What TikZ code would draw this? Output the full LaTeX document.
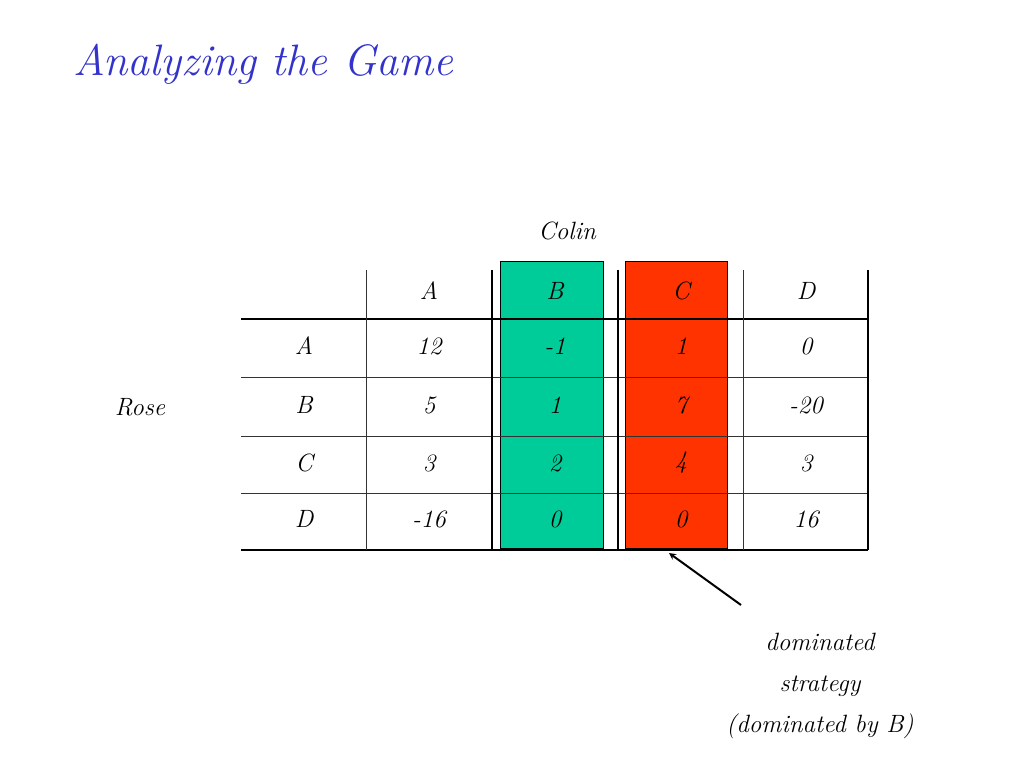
\documentclass[tikz,border=0pt]{standalone}
\usepackage{amssymb}
\usetikzlibrary{positioning}
\definecolor{titleblue}{RGB}{51,51,204}
\definecolor{domgreen}{RGB}{0,204,153}
\definecolor{domred}{RGB}{255,51,0}
\tikzset{
  cell/.style={font=\fontsize{25}{28}\selectfont\itshape, anchor=center},
  grid/.style={draw=black!80, line width=0.8pt},
  heavy/.style={draw=black, line width=1.4pt}
}
\begin{document}
\begin{tikzpicture}[x=1pt, y=-1pt]
  %game table, Colin vs Rose
    \useasboundingbox (0,0) rectangle (1024,768);

    \node[anchor=west, text=titleblue, font=\fontsize{44}{50}\selectfont\itshape] (title) at (70,64) {Analyzing the Game};

    \fill[domgreen] (500,261) rectangle (603,548);
    \draw[line width=0.8pt] (500,261) rectangle (603,548);
    \fill[domred] (625,261) rectangle (727,548);
    \draw[line width=0.8pt] (625,261) rectangle (727,548);

    \foreach \y in {377,436,493} \draw[grid] (241,\y) -- (868,\y);
    \draw[heavy] (241,319) -- (868,319);
    \draw[heavy] (241,550) -- (868,550);
    \draw[grid] (366,270) -- (366,550);
    \draw[grid] (743,270) -- (743,550);
    \foreach \x in {492,618,868} \draw[heavy] (\x,270) -- (\x,550);

    \node[cell] (colin) at (567,231) {Colin};
    \node[cell] (rose) at (140,407) {Rose};

    % column heads and row heads
    \foreach \n/\x in {A/429,B/555,C/681,D/806}
      \node[cell] (col\n) at (\x,291) {\n};
    \foreach \n/\y in {A/346,B/405,C/463,D/519}
      \node[cell] (row\n) at (304,\y) {\n};

    % payoffs
    \foreach \y/\a/\b/\c/\d in {346/12/-1/1/0, 405/5/1/7/-20, 463/3/2/4/3, 519/-16/0/0/16}{
      \node[cell] at (429,\y) {\a};
      \node[cell] at (555,\y) {\b};
      \node[cell] at (681,\y) {\c};
      \node[cell] at (806,\y) {\d};
    }

    \node[cell, align=center, font=\fontsize{25}{41}\selectfont\itshape] (note) at (820,686) {dominated\\strategy\\(dominated by B)};
    \coordinate (tip) at (669,553);
    \coordinate (tail) at (741,605);
    \draw[line width=2pt, -stealth] (tail) -- (tip);
  \end{tikzpicture}
\end{document}
